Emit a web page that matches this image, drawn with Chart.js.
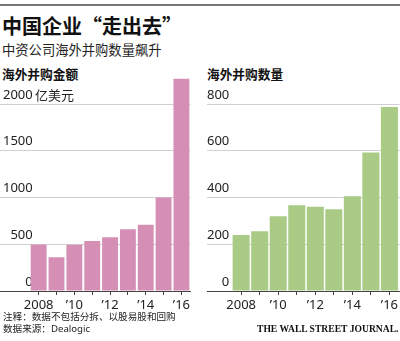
<!DOCTYPE html>
<html lang="zh-CN">
<head>
<meta charset="utf-8">
<script src="https://cdn.jsdelivr.net/npm/chart.js@4"></script>
<style>
  body { margin:0; background:#fff; font-family:'Noto Sans','Noto Sans CJK SC',sans-serif; color:#111; }
  #wrap { position:relative; width:400px; height:341px; overflow:hidden; }
  .rule { position:absolute; left:0; top:4px; width:400px; height:2px; background:#777; }
  .t { position:absolute; white-space:nowrap; }
  .cjk { font-family:'Noto Sans CJK SC','Noto Sans',sans-serif; }
  #title { left:2px; top:11px; font-size:20px; font-weight:bold; }
  #title .q { display:inline-block; width:1em; }
  #sub { left:2px; top:40px; font-size:13.3px; color:#222; }
  #h1 { left:2px; top:64px; font-size:12.7px; font-weight:bold; }
  #h2 { left:207px; top:64px; font-size:12.7px; font-weight:bold; }
  #unit { left:35px; top:85px; font-size:13px; color:#222; }
  #note { left:3px; top:311px; font-size:9.6px; line-height:12px; color:#222; }
  #wsj { left:257px; top:323px; font-family:'Liberation Serif',serif; font-weight:bold; font-size:9.6px; color:#111; }
</style>
</head>
<body>
<div id="wrap">
  <div class="rule"></div>
  <div class="t cjk" id="title">中国企业<span class="q" style="text-align:right">“</span>走出去<span class="q">”</span></div>
  <div class="t cjk" id="sub">中资公司海外并购数量飙升</div>
  <div class="t cjk" id="h1">海外并购金额</div>
  <div class="t cjk" id="h2">海外并购数量</div>
  <div style="position:absolute;left:0;top:60px;width:192px;height:260px"><canvas id="cValue"></canvas></div>
  <div style="position:absolute;left:207px;top:60px;width:193px;height:260px"><canvas id="cCount"></canvas></div>
  <div class="t cjk" id="unit">亿美元</div>
  <div class="t" id="note">注释：数据不包括分拆、以股易股和回购<br>数据来源：Dealogic</div>
  <div class="t" id="wsj">THE WALL STREET JOURNAL.</div>
</div>
<script>
const years = [2008, 2009, 2010, 2011, 2012, 2013, 2014, 2015, 2016];
const labelYears = [2008, 2010, 2012, 2014, 2016];
const labelText = ['2008', '’10', '’12', '’14', '’16'];
const dealValue = [497, 362, 495, 535, 575, 660, 710, 1000, 2270];   // 亿美元
const dealCount = [240, 256, 320, 367, 360, 350, 405, 593, 787];
const valueTicks = [0, 500, 1000, 1500, 2000];
const countTicks = [0, 200, 400, 600, 800];

const font = { family:"'Noto Sans','Noto Sans CJK SC',sans-serif", size:13 };
const axisDark = '#444';
const FIG = '\u2007';

function makeChart(id, data, color, yMax, yTicks, xMin, xMax, barPct, labelPad) {
  const width = Math.max(...yTicks.map(v => String(v).length));
  return new Chart(document.getElementById(id), {
    type: 'bar',
    data: { labels: years, datasets: [{ data, backgroundColor: color, borderWidth: 0,
      barPercentage: barPct, categoryPercentage: 1 }] },
    options: {
      responsive: true, maintainAspectRatio: false, animation: false,
      layout: { padding: { top: 16, left: 0, right: 0, bottom: 0 } },
      plugins: { legend: { display: false }, tooltip: { enabled: false } },
      scales: {
        x: {
          type: 'linear', min: xMin, max: xMax, offset: false,
          grid: { display: true, offset: false, drawOnChartArea: false, drawTicks: true, tickLength: 4, color: axisDark },
          border: { display: true, color: axisDark },
          afterBuildTicks: s => { s.ticks = years.map(v => ({ value: v })); },
          ticks: { autoSkip: false, maxRotation: 0, padding: 2, color: '#222', font,
            callback: v => { const i = labelYears.indexOf(v); return i < 0 ? '' : labelText[i]; } },
          afterFit: s => { s.height = 29; }
        },
        y: {
          min: 0, max: yMax,
          border: { display: false },
          grid: { drawTicks: false, lineWidth: 1,
            color: c => (c.tick && c.tick.value === 0) ? axisDark : '#d0d0d0' },
          afterBuildTicks: s => { s.ticks = yTicks.map(v => ({ value: v })); },
          ticks: { mirror: true, padding: labelPad, labelOffset: -9, color: '#222', font,
            callback: v => String(v).padStart(width, FIG) },
          afterFit: s => { s.width = 0; }
        }
      }
    }
  });
}

makeChart('cValue', dealValue, '#d58fb5', 2300, valueTicks, 2005.833, 2016.5, 0.89, 3);
makeChart('cCount', dealCount, '#a9cb86', 920, countTicks, 2006.157, 2016.555, 0.92, 0);
</script>
</body>
</html>
